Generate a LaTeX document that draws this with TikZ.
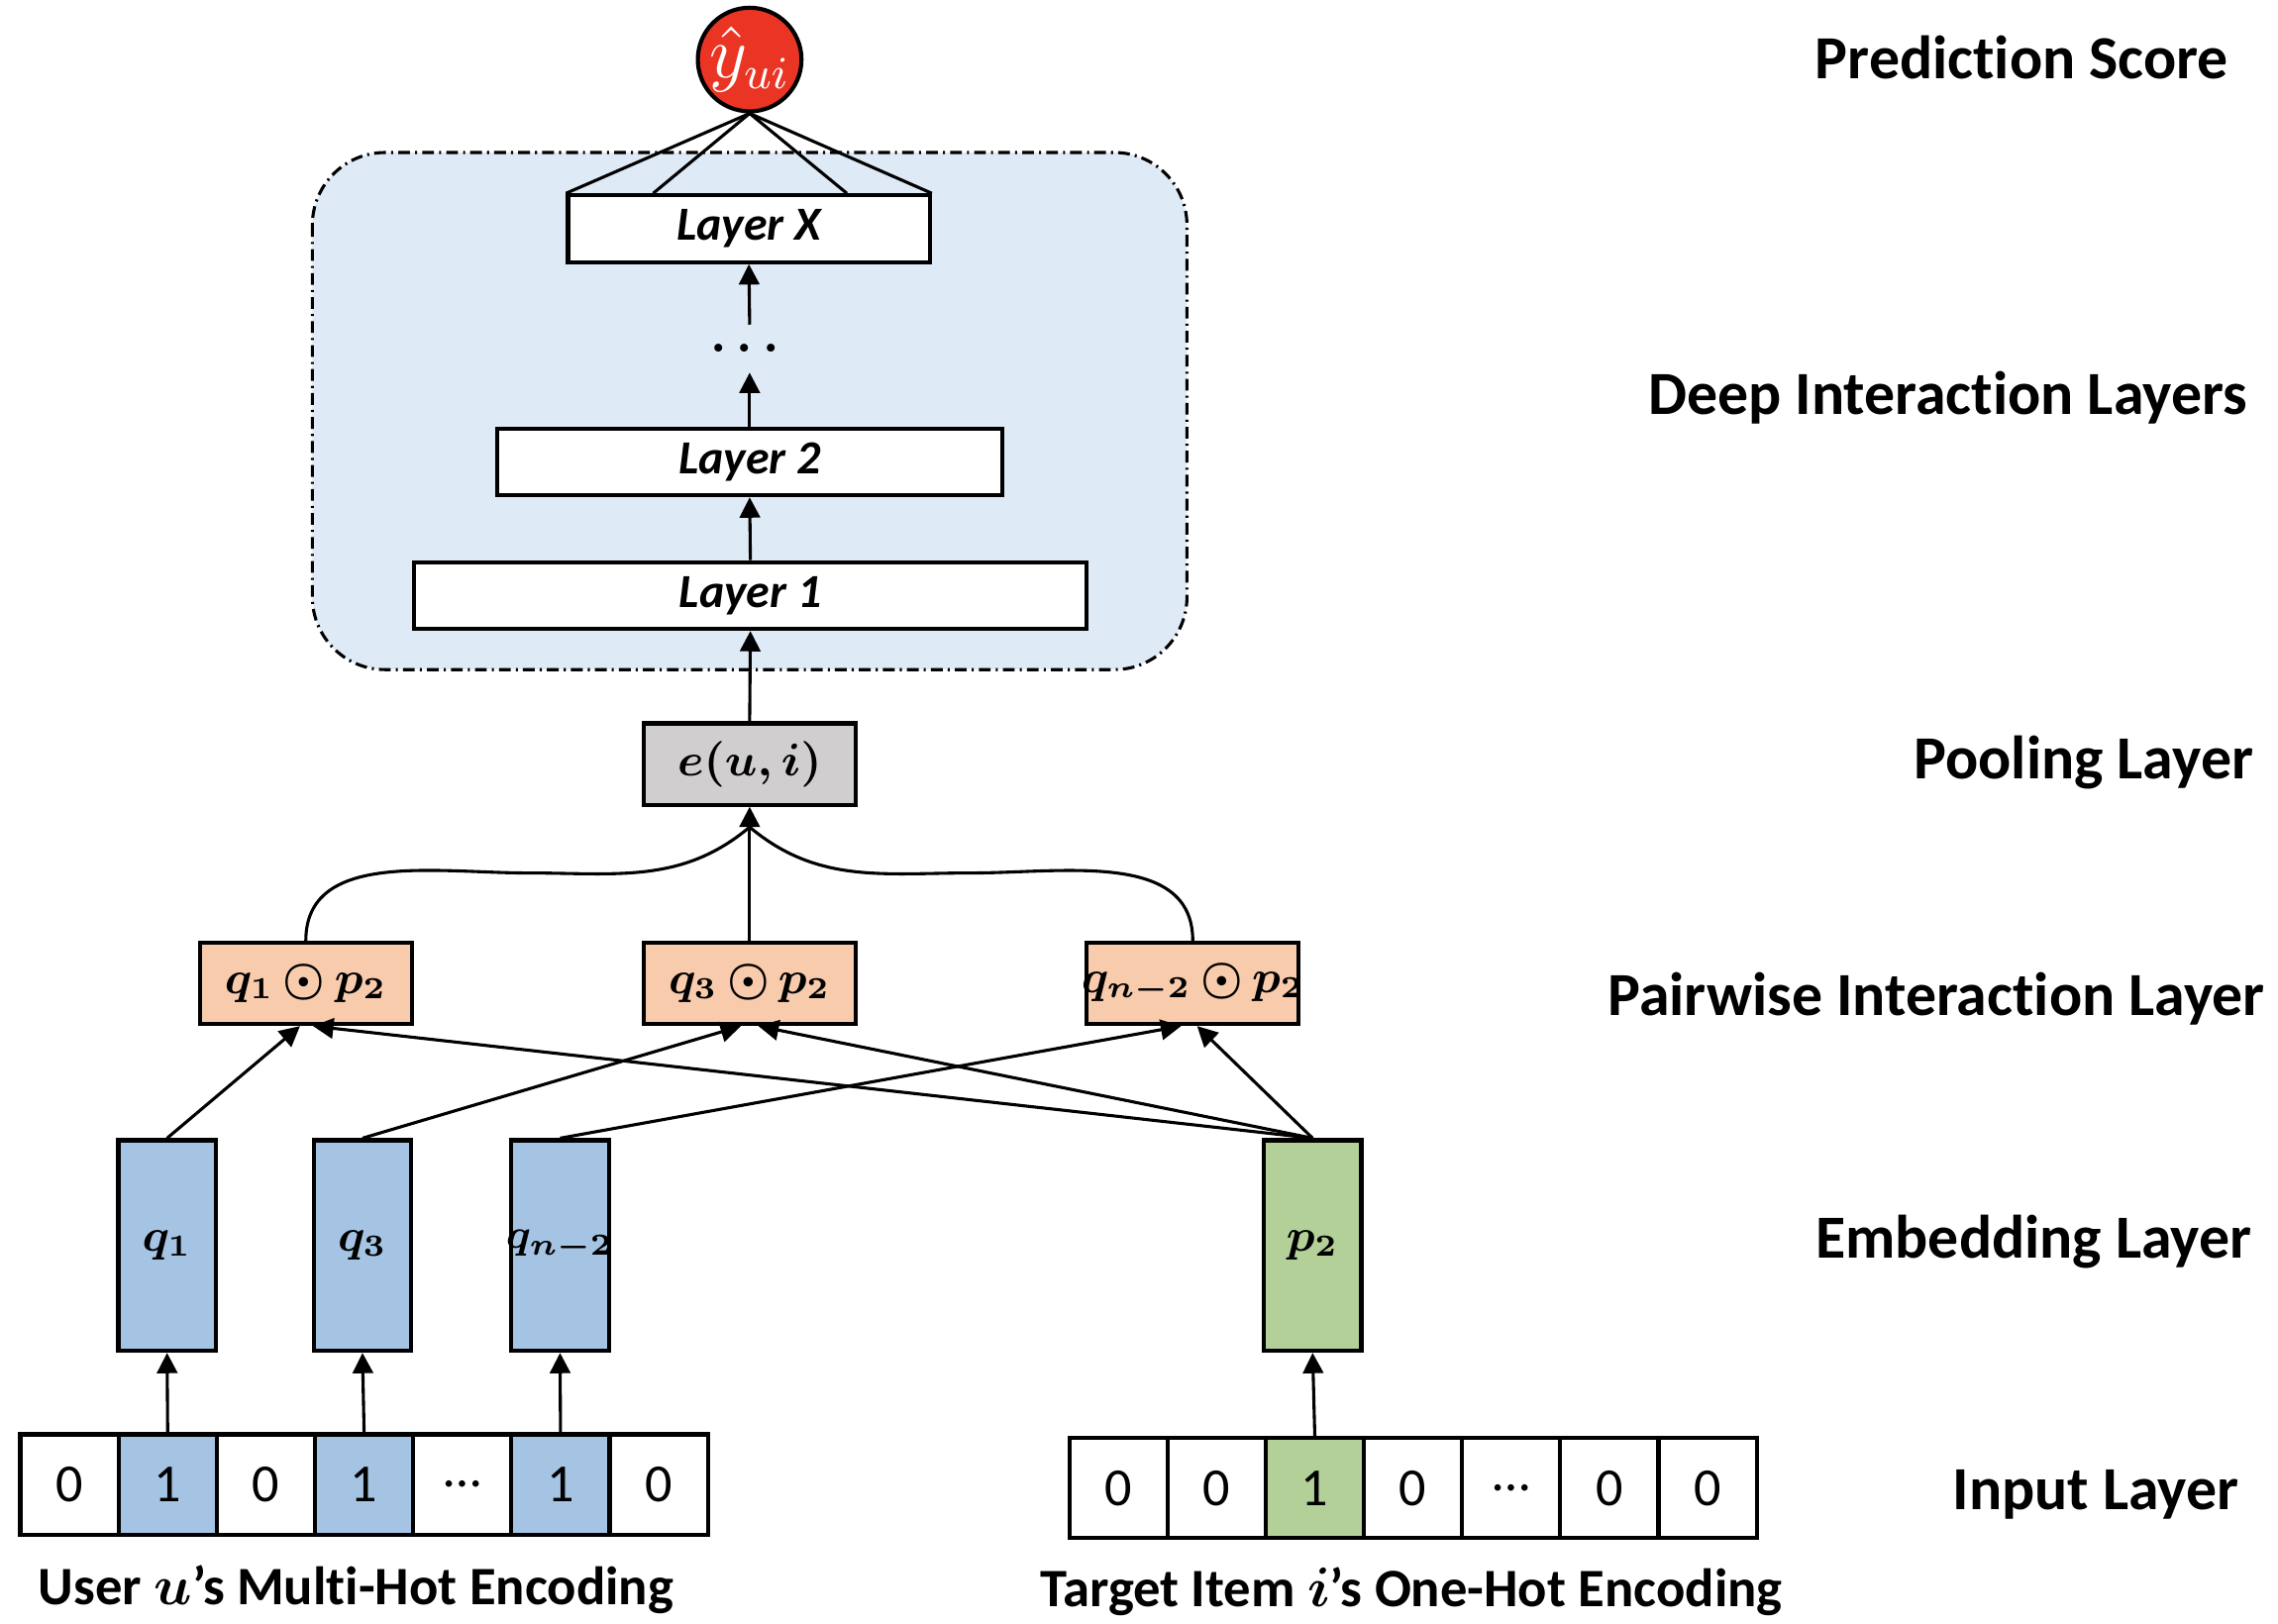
\documentclass[tikz,border=0pt]{standalone}
\usepackage{fontspec}
\setmainfont{Carlito}[Ligatures=NoCommon]
\usepackage{amsmath}
\usetikzlibrary{arrows.meta}

\definecolor{predred}{RGB}{234,53,36}
\definecolor{deepblue}{RGB}{222,234,246}
\definecolor{poolgray}{RGB}{208,206,206}
\definecolor{pairpeach}{RGB}{248,203,173}
\definecolor{userblue}{RGB}{165,195,227}
\definecolor{itemgreen}{RGB}{178,208,152}

\begin{document}
\begin{tikzpicture}[x=1mm, y=-1mm, line width=.6pt,
        arr/.style={-{Triangle[length=1.4mm, width=1.4mm]}},
        predict/.style={circle, draw, line width=.8pt, fill=predred, text=white, minimum size=6.3mm, inner sep=0pt, font=\fontsize{13.5}{15}\selectfont},
        layerbox/.style={draw, line width=.8pt, fill=white, minimum height=4.6mm, inner sep=0pt, font=\fontsize{9.3}{11}\selectfont\bfseries\itshape},
        mathbox/.style={draw, line width=.8pt, inner sep=0pt, font=\fontsize{9}{11}\selectfont\boldmath},
        cell/.style={draw, line width=.8pt, minimum width=6.76mm, minimum height=6.9mm, inner sep=0pt, font=\fontsize{10.5}{12}\selectfont},
        layername/.style={inner sep=0pt, font=\fontsize{12}{14}\selectfont\bfseries},
        encname/.style={inner sep=0pt, font=\fontsize{10.6}{12}\selectfont\bfseries\boldmath}]
    \useasboundingbox[fill=white] (0,0) rectangle (156.8,111.8);

    % Deep interaction region.
    \draw[rounded corners=5mm, fill=deepblue, dash pattern=on 2.3pt off 1pt on .4pt off 1pt] (21.5,10.5) rectangle (81.7,46.1);

    % Prediction score.
    \node[predict] (yhat) at (51.6,4.1) {$\hat{y}_{ui}$};

    % Layers.
    \node[layerbox, minimum width=24.9mm] (layerX) at (51.55,15.75) {Layer X};
    \node[inner sep=0pt, minimum height=3.1mm, font=\fontsize{10}{12}\selectfont\boldmath] (dots) at (51.6,24.0) {$\cdots$};
    \node[layerbox, minimum width=34.8mm] (layer2) at (51.6,31.8) {Layer 2};
    \node[layerbox, minimum width=46.3mm] (layer1) at (51.65,41.0) {Layer 1};

    \draw (yhat.south) -- (layerX.north west);
    \draw (yhat.south) -- ([xshift=6mm]layerX.north west);
    \draw (yhat.south) -- ([xshift=-5.85mm]layerX.north east);
    \draw (yhat.south) -- (layerX.north east);

    \draw[arr] (dots.north) -- (layerX.south);
    \draw[arr] (layer2.north) -- (dots.south);
    \draw[arr] (layer1.north) -- (layer2.south);

    % Pooling.
    \node[mathbox, fill=poolgray, minimum width=14.6mm, minimum height=5.6mm] (pool) at (51.6,52.6) {$e(u,i)$};
    \draw[arr] (pool.north) -- (layer1.south);

    % Pairwise interaction.
    \node[mathbox, fill=pairpeach, minimum width=14.6mm, minimum height=5.6mm] (pw1) at (21.05,67.7) {$q_1\,{\odot}\,p_2$};
    \node[mathbox, fill=pairpeach, minimum width=14.6mm, minimum height=5.6mm] (pw2) at (51.6,67.7) {$q_3\,{\odot}\,p_2$};
    \node[mathbox, fill=pairpeach, minimum width=14.6mm, minimum height=5.6mm, font=\fontsize{8.6}{10}\selectfont\boldmath] (pw3) at (82.1,67.7) {\makebox[0pt]{$q_{n-2}\,{\odot}\,p_2$}};

    \coordinate (merge) at ([yshift=-1.4mm]pool.south);
    \draw[arr] (pw2.north) -- (pool.south);
    \draw (pw1.north) to[out=90, in=180] (36.3,60.1) to[out=0, in=-140] (merge);
    \draw (pw3.north) to[out=90, in=0] (66.9,60.1) to[out=180, in=-40] (merge);

    % Embedding.
    \node[mathbox, fill=userblue, minimum width=6.7mm, minimum height=14.5mm] (q1) at (11.5,85.75) {$q_1$};
    \node[mathbox, fill=userblue, minimum width=6.7mm, minimum height=14.5mm] (q3) at (24.95,85.75) {$q_3$};
    \node[mathbox, fill=userblue, minimum width=6.7mm, minimum height=14.5mm, font=\fontsize{8.2}{10}\selectfont\boldmath] (qn) at (38.55,85.75) {\makebox[0pt]{$q_{n-2}$}};
    \node[mathbox, fill=itemgreen, minimum width=6.7mm, minimum height=14.5mm] (p2) at (90.35,85.75) {$p_2$};

    \draw[arr] (q1.north) -- ([xshift=-.4mm]pw1.south);
    \draw[arr] (q3.north) -- ([xshift=-.6mm]pw2.south);
    \draw[arr] (qn.north) -- ([xshift=-.8mm]pw3.south);
    \foreach \p/\s in {pw1/.5, pw2/.6, pw3/.3}
    {
        \draw[arr] (p2.north) -- ([xshift=\s mm]\p.south);
    }

    % Input.
    \foreach \v/\c [count=\k] in {0/white, 1/userblue, 0/white, 1/userblue, \dots/white, 1/userblue, 0/white}
    {
        \node[cell, fill=\c] (u\k) at ({6.76*\k-1.98},102.2) {\v};
    }
    \foreach \v/\c [count=\k] in {0/white, 0/white, 1/itemgreen, 0/white, \dots/white, 0/white, 0/white}
    {
        \node[cell, fill=\c] (t\k) at ({6.76*\k+70.22},102.45) {\v};
    }

    \draw[arr] (u2.north) -- (q1.south);
    \draw[arr] (u4.north) -- (q3.south);
    \draw[arr] (u6.north) -- (qn.south);
    \draw[arr] (t3.north) -- (p2.south);

    % Labels.
    \node[layername, anchor=base east] (lpred) at (153.5,5.42) {Prediction Score};
    \node[layername, anchor=base east] (ldeep) at (154.8,28.5) {Deep Interaction Layers};
    \node[layername, anchor=base east] (lpool) at (155.2,53.6) {Pooling Layer};
    \node[layername, anchor=base east] (lpair) at (156.0,69.9) {Pairwise Interaction Layer};
    \node[layername, anchor=base east] (lemb) at (155.1,86.6) {Embedding Layer};
    \node[layername, anchor=base east] (linput) at (154.2,103.9) {Input Layer};

    \node[encname, anchor=base] (luser) at (24.5,110.5) {User $u$’s Multi-Hot Encoding};
    \node[encname, anchor=base] (litem) at (97.15,110.6) {Target Item $i$’s One-Hot Encoding};
\end{tikzpicture}
\end{document}
